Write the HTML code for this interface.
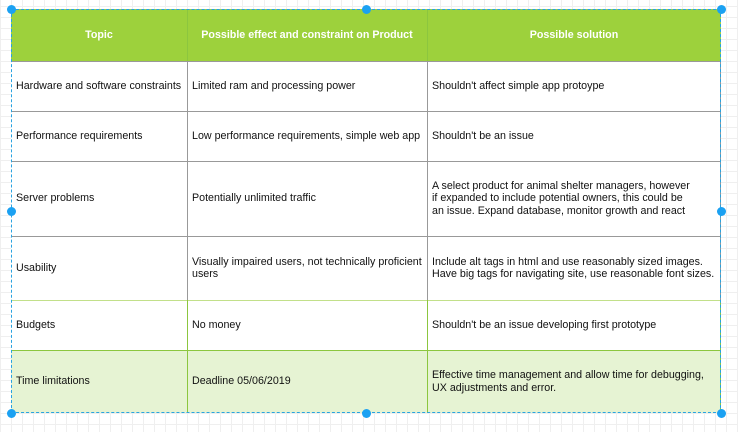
<!DOCTYPE html>
<html><head><style>
body{margin:0;width:738px;height:432px;overflow:hidden;background:#fff;
background-image:linear-gradient(#efefef 1px,transparent 1px),linear-gradient(90deg,#efefef 1px,transparent 1px);background-size:11px 11px;background-position:0 6px;
font-family:"Liberation Sans",sans-serif;font-size:10.7px;color:#111;position:relative}
.c{position:absolute;display:flex;align-items:center;box-sizing:border-box;padding-left:5px;line-height:12.5px;white-space:nowrap}
.h{color:#fff;font-weight:bold;justify-content:center;padding:0}
.hl{position:absolute;height:1px}
.vl{position:absolute;width:1px}
.d{position:absolute;width:9px;height:9px;border-radius:50%;background:#1ba1f2;margin:-4.5px 0 0 -4.5px}
</style></head><body>
<div style="position:absolute;left:11px;top:9px;width:710px;height:52px;background:#9dd13c"></div>
<div style="position:absolute;left:11px;top:61px;width:710px;height:289px;background:#fff"></div>
<div style="position:absolute;left:11px;top:350px;width:710px;height:63px;background:#e6f3d3"></div>
<div class="hl" style="left:11px;top:61px;width:710px;background:#999"></div>
<div class="hl" style="left:11px;top:111px;width:710px;background:#999"></div>
<div class="hl" style="left:11px;top:161px;width:710px;background:#999"></div>
<div class="hl" style="left:11px;top:236px;width:710px;background:#999"></div>
<div class="hl" style="left:11px;top:300px;width:710px;background:#c2e08a"></div>
<div class="hl" style="left:11px;top:350px;width:710px;background:#8cc63f"></div>
<div class="vl" style="left:187px;top:9px;height:52px;background:#8cc63f"></div>
<div class="vl" style="left:427px;top:9px;height:52px;background:#8cc63f"></div>
<div class="vl" style="left:187px;top:61px;height:239px;background:#999"></div>
<div class="vl" style="left:427px;top:61px;height:239px;background:#999"></div>
<div class="vl" style="left:720px;top:61px;height:239px;background:#999"></div>
<div class="vl" style="left:187px;top:300px;height:113px;background:#8cc63f"></div>
<div class="vl" style="left:427px;top:300px;height:113px;background:#8cc63f"></div>
<div class="vl" style="left:720px;top:300px;height:113px;background:#8cc63f"></div>
<div style="position:absolute;left:11px;top:9px;width:710px;height:404px;box-sizing:border-box;border:1px dashed #29a3e0"></div>

<div class="c h" style="left:11px;top:9px;width:176px;height:52px">Topic</div>
<div class="c h" style="left:187px;top:9px;width:240px;height:52px">Possible effect and constraint on Product</div>
<div class="c h" style="left:427px;top:9px;width:294px;height:52px">Possible solution</div>

<div class="c" style="left:11px;top:61px;width:176px;height:50px">Hardware and software constraints</div>
<div class="c" style="left:187px;top:61px;width:240px;height:50px">Limited ram and processing power</div>
<div class="c" style="left:427px;top:61px;width:294px;height:50px">Shouldn't affect simple app protoype</div>

<div class="c" style="left:11px;top:111px;width:176px;height:50px">Performance requirements</div>
<div class="c" style="left:187px;top:111px;width:240px;height:50px">Low performance requirements, simple web app</div>
<div class="c" style="left:427px;top:111px;width:294px;height:50px">Shouldn't be an issue</div>

<div class="c" style="left:11px;top:161px;width:176px;height:75px">Server problems</div>
<div class="c" style="left:187px;top:161px;width:240px;height:75px">Potentially unlimited traffic</div>
<div class="c" style="left:427px;top:161px;width:294px;height:75px">A select product for animal shelter managers, however<br>if expanded to include potential owners, this could be<br>an issue. Expand database, monitor growth and react</div>

<div class="c" style="left:11px;top:236px;width:176px;height:64px">Usability</div>
<div class="c" style="left:187px;top:236px;width:240px;height:64px">Visually impaired users, not technically proficient<br>users</div>
<div class="c" style="left:427px;top:236px;width:294px;height:64px">Include alt tags in html and use reasonably sized images.<br>Have big tags for navigating site, use reasonable font sizes.</div>

<div class="c" style="left:11px;top:300px;width:176px;height:50px">Budgets</div>
<div class="c" style="left:187px;top:300px;width:240px;height:50px">No money</div>
<div class="c" style="left:427px;top:300px;width:294px;height:50px">Shouldn't be an issue developing first prototype</div>

<div class="c" style="left:11px;top:350px;width:176px;height:63px">Time limitations</div>
<div class="c" style="left:187px;top:350px;width:240px;height:63px">Deadline 05/06/2019</div>
<div class="c" style="left:427px;top:350px;width:294px;height:63px">Effective time management and allow time for debugging,<br>UX adjustments and error.</div>

<div class="d" style="left:11px;top:9px"></div>
<div class="d" style="left:366px;top:9px"></div>
<div class="d" style="left:721px;top:9px"></div>
<div class="d" style="left:11px;top:211px"></div>
<div class="d" style="left:721px;top:211px"></div>
<div class="d" style="left:11px;top:413px"></div>
<div class="d" style="left:366px;top:413px"></div>
<div class="d" style="left:721px;top:413px"></div>
</body></html>
